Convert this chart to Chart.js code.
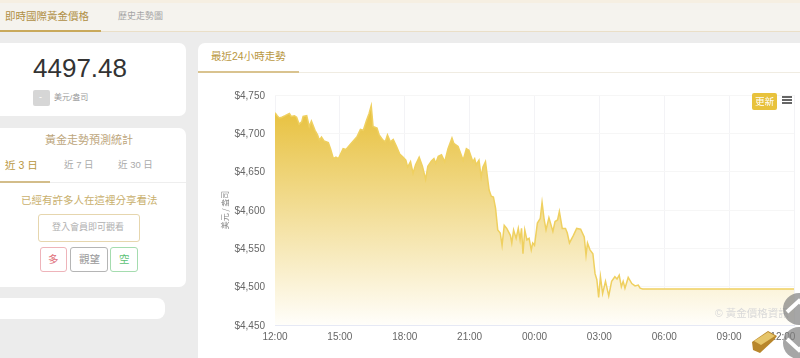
<!DOCTYPE html>
<html lang="zh-Hant">
<head>
<meta charset="utf-8">
<title>即時國際黃金價格</title>
<script src="https://cdn.jsdelivr.net/npm/chart.js@4"></script>
<style>
  html, body { margin: 0; width: 800px; height: 358px; overflow: hidden; background: #ececec;
    font-family: "Liberation Sans", "Noto Sans CJK TC", sans-serif; }
  .box { position: absolute; box-sizing: border-box; }
  .txt { position: absolute; white-space: nowrap; line-height: 1; }
  .card { background: #fff; }
  canvas { position: absolute; left: 198px; top: 73px; }
</style>
</head>
<body>
<div class="box" style="left:0;top:0;width:800px;height:3px;background:#f6efe2"></div>
<div class="box" style="left:0;top:3px;width:800px;height:29px;background:#f5f3ee;border-bottom:1px solid #eadfc8"></div>
<div class="box" style="left:0;top:30px;width:101px;height:2px;background:#c9a95c"></div>
<div class="txt" style="left:5px;top:11px;font-size:10.5px;color:#b08f45">即時國際黃金價格</div>
<div class="txt" style="left:118px;top:12px;font-size:9px;color:#a5a5a5">歷史走勢圖</div>

<div class="box card" style="left:-10px;top:43px;width:196px;height:73px;border-radius:7px"></div>
<div class="txt" style="left:33px;top:55px;font-size:26px;color:#333">4497.48</div>
<div class="box" style="left:33px;top:90px;width:17px;height:16px;background:#d6d6d6;border-radius:2px"></div>
<div class="txt" style="left:39px;top:93px;font-size:9px;color:#fff">-</div>
<div class="txt" style="left:54px;top:94px;font-size:8px;color:#999">美元/盎司</div>

<div class="box card" style="left:-10px;top:128px;width:196px;height:159px;border-radius:7px"></div>
<div class="txt" style="left:45px;top:135px;font-size:11px;color:#bda67c">黃金走勢預測統計</div>
<div class="txt" style="left:5px;top:160px;font-size:10.5px;color:#b9973f">近 3 日</div>
<div class="txt" style="left:64px;top:160px;font-size:9.5px;color:#aaa">近 7 日</div>
<div class="txt" style="left:118px;top:160px;font-size:9.5px;color:#aaa">近 30 日</div>
<div class="box" style="left:0;top:182px;width:186px;height:1px;background:#eee"></div>
<div class="box" style="left:0;top:181px;width:50px;height:2px;background:#d3bd8a"></div>
<div class="txt" style="left:21px;top:195px;font-size:10.5px;color:#c9b06e">已經有許多人在這裡分享看法</div>
<div class="box" style="left:38px;top:214px;width:102px;height:28px;border:1px solid #e6d6ae;border-radius:3px"></div>
<div class="txt" style="left:52px;top:223px;font-size:9px;color:#b0b0b0">登入會員即可觀看</div>
<div class="box" style="left:40px;top:247px;width:27px;height:25px;border:1px solid #eeb4ba;border-radius:3px"></div>
<div class="txt" style="left:48px;top:254px;font-size:10.5px;color:#e0707c">多</div>
<div class="box" style="left:70px;top:247px;width:38px;height:25px;border:1px solid #b5b5b5;border-radius:3px"></div>
<div class="txt" style="left:79px;top:254px;font-size:10.5px;color:#999">觀望</div>
<div class="box" style="left:110px;top:247px;width:28px;height:25px;border:1px solid #a5dcaf;border-radius:3px"></div>
<div class="txt" style="left:119px;top:254px;font-size:10.5px;color:#5cc274">空</div>

<div class="box card" style="left:-10px;top:298px;width:175px;height:21px;border-radius:8px"></div>

<div class="box card" style="left:198px;top:43px;width:602px;height:315px;border-radius:7px 0 0 0"></div>
<div class="box" style="left:198px;top:72px;width:602px;height:1px;background:#f0ece2"></div>
<div class="box" style="left:198px;top:71px;width:101px;height:2px;background:#d9c38f"></div>
<div class="txt" style="left:211px;top:51px;font-size:10.5px;color:#b9973f">最近24小時走勢</div>

<canvas id="goldChart" width="602" height="285"></canvas>

<div class="box" style="left:752px;top:93px;width:25px;height:17px;background:#e8c23c;border-radius:2px"></div>
<div class="txt" style="left:755px;top:97px;font-size:9.5px;color:#fff">更新</div>
<div class="box" style="left:782px;top:96px;width:10px;height:2px;background:#666"></div>
<div class="box" style="left:782px;top:99px;width:10px;height:2px;background:#666"></div>
<div class="box" style="left:782px;top:102px;width:10px;height:2px;background:#666"></div>
<div class="txt" style="left:715px;top:308px;font-size:10.5px;color:#d9d9d9">© 黃金價格資訊</div>

<svg class="box" style="left:750px;top:290px" width="50" height="68" viewBox="0 0 50 68">
  <circle cx="49" cy="19" r="16" fill="#808080" fill-opacity="0.7"/>
  <circle cx="49" cy="53" r="16" fill="#808080" fill-opacity="0.7"/>
  <path d="M37 22 L49 11 L61 22" fill="none" stroke="#fff" stroke-width="4"/>
  <path d="M37 49 L49 60 L61 49" fill="none" stroke="#fff" stroke-width="4"/>
  <path d="M2 52 L18 41 L27 46 L24 50 L10 63 L3 60 Z" fill="#b8862b"/>
  <path d="M4 51 L18 42 L25 46 L11 55 Z" fill="#e6c56a"/>
</svg>

<script>
// minutes after 12:00 and price in USD per ounce
const minutes = [0, 6, 12, 19, 28, 40, 45, 54, 60, 67, 74, 78, 88, 95, 101, 111, 118, 123, 129, 136, 148, 154, 162, 169, 176, 189, 197, 208, 219, 228, 237, 245, 254, 261, 267, 272, 283, 289, 298, 306, 312, 320, 328, 337, 346, 355, 363, 368, 376, 383, 390, 400, 409, 418, 424, 434, 441, 446, 453, 462, 471, 480, 491, 496, 508, 522, 531, 538, 549, 554, 558, 566, 572, 577, 584, 594, 600, 606, 612, 618, 625, 630, 636, 643, 653, 657, 662, 669, 675, 680, 684, 688, 693, 699, 705, 711, 715, 720, 728, 736, 741, 747, 752, 760, 771, 777, 784, 789, 797, 806, 811, 817, 828, 837, 848, 858, 863, 867, 874, 882, 888, 893, 898, 903, 909, 917, 926, 934, 943, 949, 955, 961, 966, 971, 980, 990, 999, 1008, 1013, 1020, 1440];
const prices = [4727, 4723, 4720, 4721, 4723, 4726, 4722, 4723, 4721, 4712, 4715, 4722, 4723, 4709, 4716, 4704, 4698, 4691, 4695, 4690, 4688, 4680, 4667, 4669, 4667, 4680, 4679, 4685, 4691, 4696, 4705, 4704, 4717, 4726, 4736, 4709, 4707, 4698, 4692, 4689, 4698, 4689, 4692, 4683, 4673, 4669, 4665, 4656, 4663, 4648, 4659, 4669, 4657, 4640, 4657, 4664, 4667, 4661, 4670, 4672, 4663, 4680, 4694, 4687, 4683, 4665, 4680, 4678, 4663, 4667, 4659, 4665, 4643, 4656, 4663, 4626, 4618, 4617, 4602, 4574, 4570, 4554, 4580, 4576, 4567, 4557, 4574, 4563, 4576, 4561, 4576, 4543, 4574, 4561, 4563, 4548, 4557, 4554, 4583, 4589, 4610, 4587, 4574, 4590, 4572, 4585, 4587, 4598, 4576, 4576, 4570, 4557, 4567, 4576, 4575, 4565, 4541, 4557, 4548, 4543, 4517, 4509, 4486, 4513, 4491, 4507, 4488, 4507, 4513, 4510, 4515, 4500, 4507, 4498, 4512, 4504, 4501, 4502, 4498, 4497, 4497];
const xLabels = ['12:00', '15:00', '18:00', '21:00', '00:00', '03:00', '06:00', '09:00', '12:00'];
const yLabels = ['$4,450', '$4,500', '$4,550', '$4,600', '$4,650', '$4,700', '$4,750'];

const tickFont = { family: '"Liberation Sans", sans-serif', size: 10 };

new Chart(document.getElementById('goldChart'), {
  type: 'line',
  data: {
    datasets: [{
      data: minutes.map((m, i) => ({ x: m, y: prices[i] })),
      borderColor: '#efd060',
      borderWidth: 1.5,
      pointRadius: 0,
      tension: 0,
      fill: 'start',
      backgroundColor: (ctx) => {
        const area = ctx.chart.chartArea;
        if (!area) return '#e8c23c';
        const g = ctx.chart.ctx.createLinearGradient(0, area.top, 0, area.bottom);
        g.addColorStop(0, '#e6bd32');
        g.addColorStop(1, '#fffefa');
        return g;
      }
    }]
  },
  options: {
    responsive: false,
    animation: false,
    layout: { autoPadding: false, padding: { left: 22, top: 22, right: 6, bottom: 0 } },
    plugins: { legend: { display: false }, tooltip: { enabled: false } },
    scales: {
      x: {
        type: 'linear',
        min: 0,
        max: 1440,
        // the last label runs past the canvas, keep the scale full width anyway
        afterFit: (s) => { s.height = 33; s.paddingLeft = 0; s.paddingRight = 0; },
        afterBuildTicks: (s) => { s.ticks = xLabels.map((_, i) => ({ value: i * 180 })); },
        ticks: {
          autoSkip: false,
          maxRotation: 0,
          padding: 6,
          color: '#666',
          font: tickFont,
          // trailing spaces pull the last label back inside the plot edge
          callback: (v, i) => (i === xLabels.length - 1 ? xLabels[i] + '        ' : xLabels[i])
        },
        grid: { color: '#f3f3f6', tickLength: 0 },
        border: { color: '#e6e9f5' }
      },
      y: {
        min: 4450,
        max: 4750,
        afterFit: (s) => { s.width = 55; s.paddingTop = 0; s.paddingBottom = 0; },
        ticks: {
          stepSize: 50,
          padding: 10,
          labelOffset: 1,
          color: '#666',
          font: tickFont,
          callback: (v, i) => yLabels[i]
        },
        grid: { color: '#f6f6f6', tickLength: 0 },
        border: { display: false },
        title: {
          display: true,
          text: '美元 / 盎司',
          color: '#888',
          padding: 0,
          font: { family: '"Noto Sans CJK TC", sans-serif', size: 8 }
        }
      }
    }
  }
});
</script>
</body>
</html>
